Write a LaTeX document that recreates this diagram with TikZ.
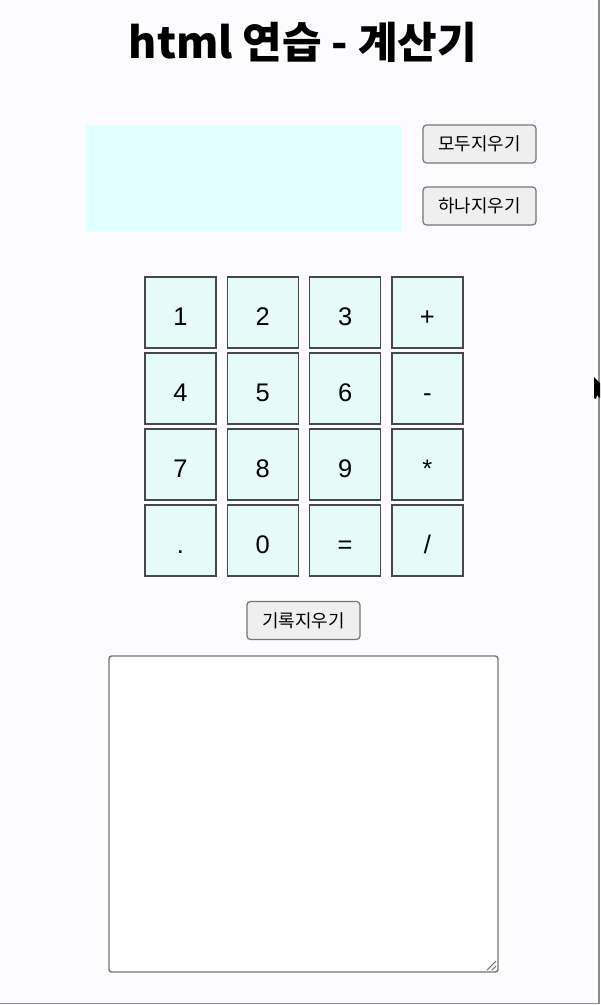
\documentclass[tikz,border=0pt]{standalone}
\usepackage{fontspec}
\setmainfont{Liberation Sans}
\newfontfamily\krfont{Noto Sans CJK KR}
\usepackage{xcolor}
\definecolor{pagebg}{RGB}{252, 251, 253}
\definecolor{screencyan}{RGB}{224, 255, 255}
\definecolor{keycyan}{RGB}{230, 250, 250}
\definecolor{keyborder}{RGB}{72, 72, 72}
\definecolor{btnfill}{RGB}{239, 239, 240}
\definecolor{btnborder}{RGB}{118, 118, 118}
\usetikzlibrary{positioning}

\begin{document}
\begin{tikzpicture}[
    x=0.02cm, y=-0.02cm,
    keybox/.style={rectangle, draw=keyborder, fill=keycyan, line width=0.8pt,
                   minimum width=1.42cm, minimum height=1.42cm, inner sep=0pt,
                   text height=0.5cm, text depth=0pt,
                   font=\fontsize{14.5}{16}\selectfont},
    btnbox/.style={rectangle, draw=btnborder, fill=btnfill, line width=0.7pt,
                   minimum width=2.26cm, minimum height=0.76cm, inner sep=0pt,
                   rounded corners=2pt, font=\krfont\fontsize{10.2}{12}\selectfont}
]
    \useasboundingbox[fill=pagebg] (0,0) rectangle (600,1005);
    \draw[black!45, line width=0.8pt] (598.8,0) -- (598.8,1003.5) -- (0,1003.5);

    \node (title) at (303,42) {\krfont\bfseries\fontsize{24.5}{28}\selectfont html 연습 - 계산기};

    % display and its buttons
    \node[rectangle, fill=screencyan, minimum width=6.3cm, minimum height=2.14cm, inner sep=0pt]
        (screen) at (243.5,178.5) {};
    \node[btnbox] (clearall) at (479.5,144) {모두지우기};
    \node[btnbox] (clearone) at (479.5,206) {하나지우기};

    % keypad
    \foreach \lab [count=\i from 0] in {1,2,3,+,4,5,6,-,7,8,9,*,.,0,=,/} {
        \pgfmathtruncatemacro{\col}{mod(\i,4)}
        \pgfmathtruncatemacro{\row}{int(\i/4)}
        \node[keybox] (key\i) at (180.5+82.3*\col, 312.5+76*\row) {\lab};
    }

    % history
    \node[btnbox] (clearlog) at (303.5,620.5) {기록지우기};
    \node[rectangle, draw=btnborder, fill=white, line width=0.8pt, rounded corners=1.5pt,
          minimum width=7.78cm, minimum height=6.32cm, inner sep=0pt]
        (history) at (303.5,814) {};
    \draw[btnborder, line width=0.6pt] (487,970) -- (496,961) (492,970) -- (496,966);

    % mouse pointer
    \fill[black] (594,377) -- (600,383) -- (600,398) -- (597,395) -- (596,399) -- (594,398) -- cycle;
\end{tikzpicture}
\end{document}
